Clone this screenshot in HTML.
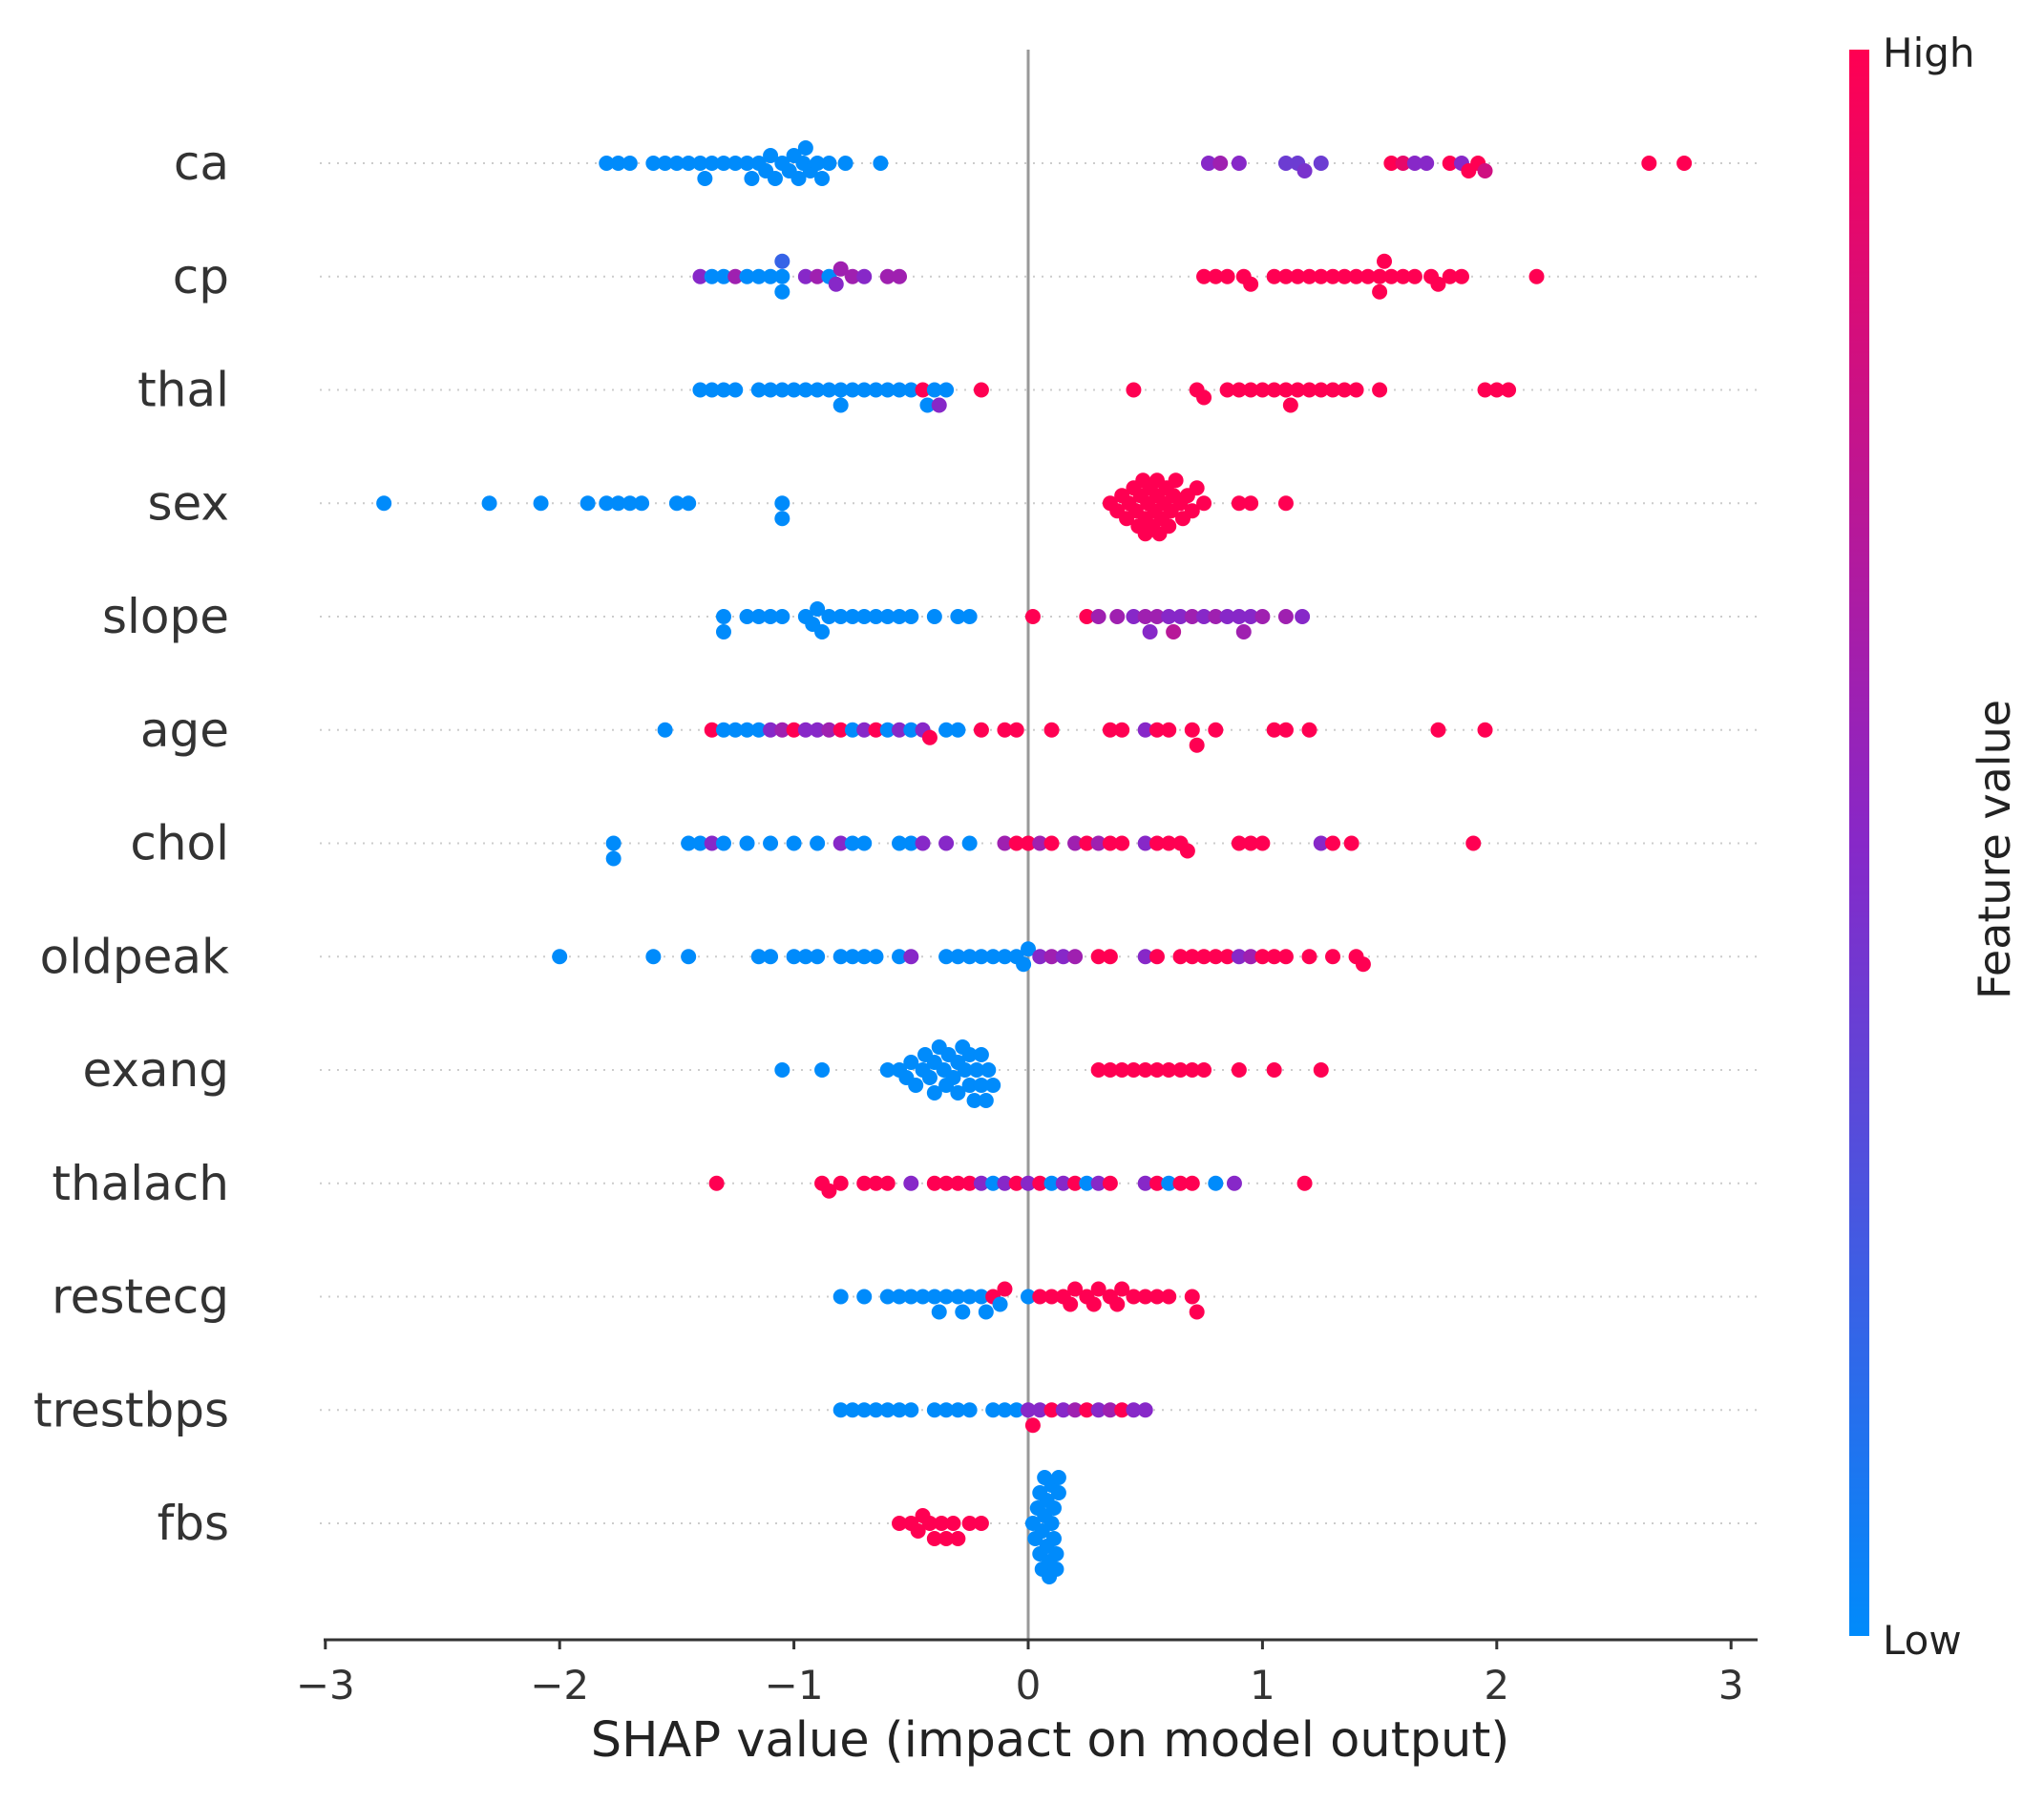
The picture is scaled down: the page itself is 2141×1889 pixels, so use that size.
<!DOCTYPE html>
<html><head><meta charset="utf-8">
<style>
body{margin:0;background:#fff;}
svg{display:block;font-family:"DejaVu Sans","Liberation Sans",sans-serif;}
</style></head>
<body>
<svg id="chart" width="2141" height="1889" viewBox="0 0 2141 1889" xmlns="http://www.w3.org/2000/svg">
<defs>
<linearGradient id="cb" x1="0" y1="1" x2="0" y2="0">
<stop offset="0" stop-color="rgb(0,139,251)"/>
<stop offset="0.5" stop-color="rgb(135,40,200)"/>
<stop offset="1" stop-color="rgb(255,0,82)"/>
</linearGradient>
</defs>
<g id="grid"></g>
<line x1="1077" y1="52" x2="1077" y2="1718" stroke="#999" stroke-width="3"/>
<g id="dots"></g>
<g id="labels"></g>
<line x1="339" y1="1718" x2="1841" y2="1718" stroke="#333" stroke-width="3"/>
<g id="xticks"></g>
<text x="1100" y="1840" text-anchor="middle" font-size="51" fill="#222">SHAP value (impact on model output)</text>
<rect x="1937" y="52" width="21" height="1662" fill="url(#cb)"/>
<text x="1972" y="70" font-size="42" fill="#222">High</text>
<text x="1972" y="1733" font-size="42" fill="#222">Low</text>
<text transform="translate(2105,890) rotate(-90)" text-anchor="middle" font-size="46" fill="#222">Feature value</text>
</svg>
<script>
const features=["ca","cp","thal","sex","slope","age","chol","oldpeak","exang","thalach","restecg","trestbps","fbs"];
const tickValues=[-3,-2,-1,0,1,2,3];
const tickLabels=["\u22123","\u22122","\u22121","0","1","2","3"];
// each row: "shap:color" pairs, color 0=low(blue) .. 1=high(red)
const caPts="-1.8:0 -1.75:0 -1.7:0 -1.6:0 -1.55:0 -1.5:0 -1.45:0 -1.4:0 -1.38:0 -1.35:0 -1.3:0 -1.25:0 -1.2:0 -1.18:0 -1.15:0 -1.12:0 -1.1:0 -1.08:0 -1.05:0 -1.02:0 -1:0 -0.98:0 -0.96:0 -0.95:0 -0.93:0 -0.9:0 -0.88:0 -0.85:0 -0.78:0 -0.63:0 0.77:0.5 0.82:0.6 0.9:0.5 1.1:0.4 1.15:0.4 1.18:0.45 1.25:0.4 1.55:1 1.6:0.9 1.65:0.5 1.7:0.5 1.8:1 1.85:0.5 1.88:1 1.92:1 1.95:0.8 2.65:1 2.8:1";
const cpPts="-1.4:0.5 -1.35:0 -1.3:0 -1.25:0.6 -1.2:0 -1.15:0 -1.1:0 -1.05:0 -1.05:0 -1.05:0.2 -0.95:0.5 -0.9:0.6 -0.85:0 -0.82:0.5 -0.8:0.6 -0.75:0.6 -0.7:0.5 -0.6:0.6 -0.55:0.6 0.75:1 0.8:1 0.85:1 0.92:1 0.95:1 1.05:1 1.1:1 1.15:1 1.2:1 1.25:1 1.3:1 1.35:1 1.4:1 1.45:1 1.5:1 1.5:1 1.52:1 1.55:1 1.6:1 1.65:1 1.72:1 1.75:1 1.8:1 1.85:1 2.17:1";
const thalPts="-1.4:0 -1.35:0 -1.3:0 -1.25:0 -1.15:0 -1.1:0 -1.05:0 -1:0 -0.95:0 -0.9:0 -0.85:0 -0.8:0 -0.8:0 -0.75:0 -0.7:0 -0.65:0 -0.6:0 -0.55:0 -0.5:0 -0.45:1 -0.43:0 -0.4:0 -0.38:0.5 -0.35:0 -0.2:1 0.45:1 0.72:1 0.75:1 0.85:1 0.9:1 0.95:1 1:1 1.05:1 1.1:1 1.12:1 1.15:1 1.2:1 1.25:1 1.3:1 1.35:1 1.4:1 1.5:1 1.95:1 2:1 2.05:1";
const sexPts="-2.75:0 -2.3:0 -2.08:0 -1.88:0 -1.8:0 -1.75:0 -1.7:0 -1.65:0 -1.5:0 -1.45:0 -1.05:0 -1.05:0 0.35:1 0.38:1 0.4:1 0.42:1 0.43:1 0.45:1 0.46:1 0.47:1 0.48:1 0.49:1 0.5:1 0.5:1 0.51:1 0.52:1 0.53:1 0.54:1 0.55:1 0.55:1 0.56:1 0.57:1 0.58:1 0.59:1 0.6:1 0.61:1 0.62:1 0.63:1 0.65:1 0.66:1 0.68:1 0.7:1 0.72:1 0.75:1 0.9:1 0.95:1 1.1:1";
const slopePts="-1.3:0 -1.3:0 -1.2:0 -1.15:0 -1.1:0 -1.05:0 -0.95:0 -0.92:0 -0.9:0 -0.88:0 -0.85:0 -0.8:0 -0.75:0 -0.7:0 -0.65:0 -0.6:0 -0.55:0 -0.5:0 -0.4:0 -0.3:0 -0.25:0 0.02:1 0.25:1 0.3:0.6 0.38:0.6 0.45:0.5 0.5:0.6 0.52:0.5 0.55:0.6 0.6:0.5 0.62:0.7 0.65:0.5 0.7:0.6 0.75:0.5 0.8:0.6 0.85:0.5 0.9:0.5 0.92:0.6 0.95:0.5 1:0.6 1.1:0.6 1.17:0.5";
const agePts="-1.55:0 -1.35:1 -1.3:0 -1.25:0 -1.2:0 -1.15:0 -1.1:0.5 -1.05:0.6 -1:1 -0.95:0.5 -0.9:0.5 -0.85:0.6 -0.8:1 -0.75:0 -0.7:0.5 -0.65:1 -0.6:0 -0.55:0.5 -0.5:0 -0.45:0.5 -0.42:1 -0.35:0 -0.3:0 -0.2:1 -0.1:1 -0.05:1 0.1:1 0.35:1 0.4:1 0.5:0.5 0.55:1 0.6:1 0.7:1 0.72:1 0.8:1 1.05:1 1.1:1 1.2:1 1.75:1 1.95:1";
const cholPts="-1.77:0 -1.77:0 -1.45:0 -1.4:0 -1.35:0.5 -1.3:0 -1.2:0 -1.1:0 -1:0 -0.9:0 -0.8:0.5 -0.75:0 -0.7:0 -0.55:0 -0.5:0 -0.45:0.5 -0.35:0.5 -0.25:0 -0.1:0.6 -0.05:1 0:1 0.05:0.6 0.1:1 0.2:0.6 0.25:1 0.3:0.6 0.35:1 0.4:1 0.5:0.5 0.55:1 0.6:1 0.65:1 0.68:1 0.9:1 0.95:1 1:1 1.25:0.5 1.3:1 1.38:1 1.9:1";
const oldpeakPts="-2:0 -1.6:0 -1.45:0 -1.15:0 -1.1:0 -1:0 -0.95:0 -0.9:0 -0.8:0 -0.75:0 -0.7:0 -0.65:0 -0.55:0 -0.5:0.5 -0.35:0 -0.3:0 -0.25:0 -0.2:0 -0.15:0 -0.1:0 -0.05:0 -0.02:0 0:0 0.05:0.5 0.1:0.6 0.15:0.5 0.2:0.6 0.3:1 0.35:1 0.5:0.5 0.55:1 0.65:1 0.7:1 0.75:1 0.8:1 0.85:1 0.9:0.5 0.95:0.6 1:1 1.05:1 1.1:1 1.2:1 1.3:1 1.4:1 1.43:1";
const exangPts="-1.05:0 -0.88:0 -0.6:0 -0.55:0 -0.52:0 -0.5:0 -0.48:0 -0.45:0 -0.44:0 -0.42:0 -0.4:0 -0.4:0 -0.38:0 -0.36:0 -0.35:0 -0.34:0 -0.32:0 -0.3:0 -0.3:0 -0.28:0 -0.27:0 -0.25:0 -0.25:0 -0.23:0 -0.22:0 -0.2:0 -0.2:0 -0.18:0 -0.17:0 -0.15:0 0.3:1 0.35:1 0.4:1 0.45:1 0.5:1 0.55:1 0.6:1 0.65:1 0.7:1 0.75:1 0.9:1 1.05:1 1.25:1";
const thalachPts="-1.33:1 -0.88:1 -0.85:1 -0.8:1 -0.7:1 -0.65:1 -0.6:1 -0.5:0.5 -0.4:1 -0.35:1 -0.3:1 -0.25:1 -0.2:0.5 -0.15:0 -0.1:0.5 -0.05:1 0:0.5 0.05:1 0.1:0 0.15:0.5 0.2:1 0.25:0 0.3:0.5 0.35:1 0.5:0.5 0.55:1 0.6:0 0.65:1 0.7:1 0.8:0 0.88:0.5 1.18:1";
const restecgPts="-0.8:0 -0.7:0 -0.6:0 -0.55:0 -0.5:0 -0.45:0 -0.4:0 -0.38:0 -0.35:0 -0.3:0 -0.28:0 -0.25:0 -0.2:0 -0.18:0 -0.15:1 -0.12:0 -0.1:1 0:0 0.05:1 0.1:1 0.15:1 0.18:1 0.2:1 0.25:1 0.28:1 0.3:1 0.35:1 0.38:1 0.4:1 0.45:1 0.5:1 0.55:1 0.6:1 0.7:1 0.72:1";
const trestbpsPts="-0.8:0 -0.75:0 -0.7:0 -0.65:0 -0.6:0 -0.55:0 -0.5:0 -0.4:0 -0.35:0 -0.3:0 -0.25:0 -0.15:0 -0.1:0 -0.05:0 0:0.5 0.02:1 0.05:0.5 0.1:1 0.15:0.5 0.2:0.6 0.25:1 0.3:0.5 0.35:0.6 0.4:1 0.45:0.5 0.5:0.5";
const fbsPts="-0.55:1 -0.5:1 -0.47:1 -0.45:1 -0.42:1 -0.4:1 -0.37:1 -0.35:1 -0.32:1 -0.3:1 -0.25:1 -0.2:1 0.02:0 0.03:0 0.04:0 0.05:0 0.05:0 0.06:0 0.06:0 0.07:0 0.07:0 0.08:0 0.08:0 0.09:0 0.09:0 0.1:0 0.1:0 0.11:0 0.11:0 0.12:0 0.12:0 0.13:0 0.13:0";
const rows=[caPts,cpPts,thalPts,sexPts,slopePts,agePts,cholPts,oldpeakPts,exangPts,thalachPts,restecgPts,trestbpsPts,fbsPts];

const NS="http://www.w3.org/2000/svg";
const X0=1077, XU=245.4, Y0=171, YS=118.75, R=8;
const xs=v=>X0+v*XU;
const ys=i=>Y0+i*YS;
function col(t){
  const a=[0,139,251],m=[135,40,200],b=[255,0,82];
  let c;
  if(t<=0.5){const k=t/0.5;c=a.map((v,j)=>Math.round(v+(m[j]-v)*k));}
  else{const k=(t-0.5)/0.5;c=m.map((v,j)=>Math.round(v+(b[j]-v)*k));}
  return `rgb(${c[0]},${c[1]},${c[2]})`;
}
const grid=document.getElementById('grid'),dots=document.getElementById('dots'),labels=document.getElementById('labels'),xt=document.getElementById('xticks');
features.forEach((f,i)=>{
  const y=ys(i);
  const g=document.createElementNS(NS,'line');
  g.setAttribute('x1',335);g.setAttribute('x2',1845);g.setAttribute('y1',y);g.setAttribute('y2',y);
  g.setAttribute('stroke','#ccc');g.setAttribute('stroke-width','2');g.setAttribute('stroke-dasharray','2,7');
  
  
  grid.appendChild(g);
  const t=document.createElementNS(NS,'text');
  t.setAttribute('x',240);t.setAttribute('y',y+17);t.setAttribute('text-anchor','end');
  t.setAttribute('font-size','50');t.setAttribute('fill','#333');t.textContent=f;
  
  
  labels.appendChild(t);
  const pts=rows[i].split(' ').map(s=>s.split(':').map(Number)).sort((a,b)=>a[0]-b[0]);
  const placed=[];
  pts.forEach(p=>{
    const px=xs(p[0]);
    let off=0;
    for(let k=0;k<40;k++){
      const cand=(k%2?1:-1)*Math.ceil(k/2)*R*1.0;
      const ok=placed.every(q=>(q[0]-px)**2+(q[1]-cand)**2>=(R*1.3)**2);
      if(ok){off=cand;break;}
    }
    placed.push([px,off]);
    const c=document.createElementNS(NS,'circle');
    c.setAttribute('cx',px);c.setAttribute('cy',y+off);c.setAttribute('r',R);c.setAttribute('fill',col(p[1]));
    
    
    dots.appendChild(c);
  });
});
tickValues.forEach((v,i)=>{
  const l=document.createElementNS(NS,'line');
  l.setAttribute('x1',xs(v));l.setAttribute('x2',xs(v));l.setAttribute('y1',1718);l.setAttribute('y2',1728);
  l.setAttribute('stroke','#333');l.setAttribute('stroke-width','3');
  
  
  xt.appendChild(l);
  const t=document.createElementNS(NS,'text');
  t.setAttribute('x',xs(v));t.setAttribute('y',1780);t.setAttribute('text-anchor','middle');
  t.setAttribute('font-size','42');t.setAttribute('fill','#333');t.textContent=tickLabels[i];
  
  
  xt.appendChild(t);
});
</script>
</body></html>
